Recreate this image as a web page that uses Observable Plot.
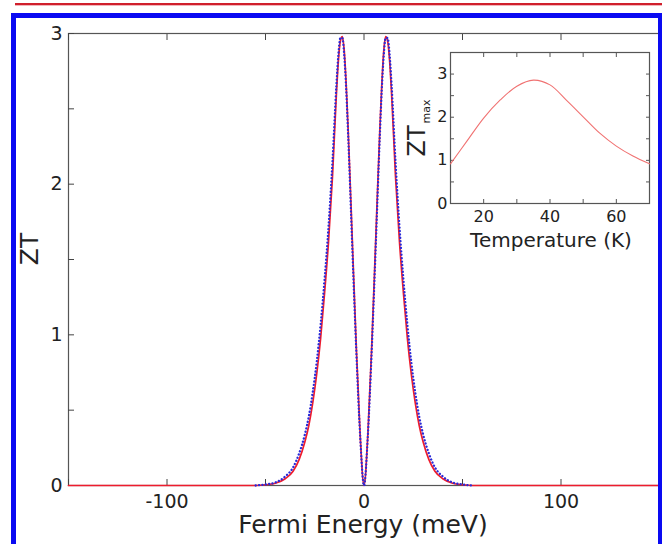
<!DOCTYPE html>
<html><head><meta charset="utf-8">
<script src="https://cdn.jsdelivr.net/npm/d3@7"></script>
<script src="https://cdn.jsdelivr.net/npm/@observablehq/plot@0.6"></script>
<style>
html,body{margin:0;padding:0;background:#fff;overflow:hidden;}
#wrap{position:relative;width:662px;height:544px;overflow:hidden;font-family:"DejaVu Sans",sans-serif;background:#fff;}
#main,#inset{position:absolute;}
#main{left:0;top:0}
#inset{left:390px;top:40px}
.bframe{position:absolute;left:11px;top:13px;width:651px;height:600px;box-sizing:border-box;border:5px solid #0a0af2;border-right-width:4px;pointer-events:none}
.topline{position:absolute;left:15px;right:0;top:3px;height:2px;background:#d01f2c}
.topline2{position:absolute;left:15px;right:0;top:5px;height:1px;background:#f2b6bb}
</style></head>
<body><div id="wrap"><div id="main"></div><div id="inset"></div><div class="topline"></div><div class="topline2"></div><div class="bframe"></div></div>
<script>
// Main panel: ZT vs Fermi energy
const energy = [-150,-55,-50,-45,-40,-36,-33,-30,-28,-26,-24,-22,-20,-18,-16,-14,-13,-12,-11,-10,-9,-8,-6,-4,-2,0,2,4,6,8,9,10,11,12,13,14,16,18,20,22,24,26,28,30,33,36,40,45,50,55,150];
const ztSolid = [0,0,0.005,0.015,0.045,0.095,0.17,0.29,0.40,0.55,0.74,0.98,1.28,1.62,2.05,2.6,2.82,2.95,2.98,2.88,2.65,2.35,1.65,0.95,0.35,0,0.35,0.95,1.65,2.35,2.65,2.88,2.98,2.95,2.82,2.6,2.05,1.62,1.28,0.98,0.74,0.55,0.40,0.29,0.17,0.095,0.045,0.015,0.005,0,0];
const energyDotted = [-55,-50,-45,-40,-36,-33,-30,-28,-26,-24,-22,-20,-18,-16,-14,-13,-12,-11,-10,-9,-8,-6,-4,-2,0,2,4,6,8,9,10,11,12,13,14,16,18,20,22,24,26,28,30,33,36,40,45,50,55];
const ztDotted = [0,0.007,0.02,0.06,0.12,0.21,0.34,0.46,0.62,0.82,1.07,1.37,1.72,2.15,2.66,2.86,2.97,2.97,2.85,2.62,2.31,1.6,0.92,0.34,0,0.34,0.92,1.6,2.31,2.62,2.85,2.97,2.97,2.86,2.66,2.15,1.72,1.37,1.07,0.82,0.62,0.46,0.34,0.21,0.12,0.06,0.02,0.007,0];
const xTicks = [-150,-100,-50,0,50,100,150];
const xTickLabels = ["","-100","","0","","100",""];
const yTicks = [0,0.5,1,1.5,2,2.5,3];
const yTickLabels = ["0","","1","","2","","3"];
const xLabel = "Fermi Energy (meV)";
const yLabel = "ZT";

// Inset: ZT_max vs temperature
const temperature = [10,15,20,25,30,35,40,45,50,55,60,65,70];
const ztMax = [0.92,1.45,1.98,2.4,2.72,2.86,2.75,2.39,2.01,1.63,1.33,1.1,0.92];
const insetXTicks = [10,20,30,40,50,60,70];
const insetXTickLabels = ["","20","","40","","60",""];
const insetYTicks = [0,0.5,1,1.5,2,2.5,3,3.5];
const insetYTickLabels = ["0","","1","","2","","3",""];
const insetXLabel = "Temperature (K)";
const insetYLabel = "ZT";
const insetYSub = "max";

const FONT = "DejaVu Sans, sans-serif";
const fmt = (ticks, labels) => d => { const i = ticks.indexOf(d); return i < 0 ? "" : labels[i]; };

const solid = energy.map((e, i) => ({e, zt: ztSolid[i]}));
const dotted = energyDotted.map((e, i) => ({e, zt: ztDotted[i]}));

const main = Plot.plot({
  width: 662, height: 544,
  marginLeft: 68, marginRight: 3, marginTop: 33, marginBottom: 59,
  style: {fontFamily: FONT, fontSize: "19px", color: "#222", background: "transparent", overflow: "visible"},
  x: {domain: [-150, 150]},
  y: {domain: [0, 3]},
  marks: [
    Plot.frame({stroke: "#555", strokeWidth: 1.2}),
    Plot.axisX(xTicks, {anchor: "bottom", tickSize: -6, tickPadding: 15, tickFormat: fmt(xTicks, xTickLabels), label: null, stroke: "#444"}),
    Plot.axisX(xTicks, {anchor: "top", tickSize: -6, tickFormat: () => "", label: null, stroke: "#444"}),
    Plot.axisY(yTicks, {anchor: "left", tickSize: -6, tickPadding: 12, tickFormat: fmt(yTicks, yTickLabels), label: null, stroke: "#444"}),
    Plot.line(solid, {x: "e", y: "zt", stroke: "#ee1c2e", strokeWidth: 1.7, curve: "monotone-x"}),
    Plot.line(dotted, {x: "e", y: "zt", stroke: "#2a2ad8", strokeWidth: 2.3, strokeDasharray: "0.1,3.3", strokeLinecap: "round", curve: "monotone-x"})
  ]
});
const ms = d3.select(main);
ms.append("text").attr("x", 363).attr("y", 533).attr("text-anchor", "middle")
  .attr("font-size", 25).attr("fill", "#222").text(xLabel);
ms.append("text").attr("transform", "translate(38,249) rotate(-90)").attr("text-anchor", "middle")
  .attr("font-size", 25).attr("fill", "#222").text(yLabel);
document.getElementById("main").appendChild(main);

const insetData = temperature.map((t, i) => ({t, z: ztMax[i]}));
const inset = Plot.plot({
  width: 272, height: 220,
  marginLeft: 60, marginRight: 13, marginTop: 12, marginBottom: 57,
  style: {fontFamily: FONT, fontSize: "16px", color: "#222", background: "transparent", overflow: "visible"},
  x: {domain: [10, 70]},
  y: {domain: [0, 3.5]},
  marks: [
    Plot.frame({fill: "white", stroke: "#555", strokeWidth: 1.2}),
    Plot.axisX(insetXTicks, {anchor: "bottom", tickSize: -4, tickPadding: 11, tickFormat: fmt(insetXTicks, insetXTickLabels), label: null, stroke: "#555"}),
    Plot.axisX(insetXTicks, {anchor: "top", tickSize: -4, tickFormat: () => "", label: null, stroke: "#555"}),
    Plot.axisY(insetYTicks, {anchor: "left", tickSize: -4, tickPadding: 7, tickFormat: fmt(insetYTicks, insetYTickLabels), label: null, stroke: "#555"}),
    Plot.axisY(insetYTicks, {anchor: "right", tickSize: -4, tickFormat: () => "", label: null, stroke: "#555"}),
    Plot.line(insetData, {x: "t", y: "z", stroke: "#f07272", strokeWidth: 1.1, curve: "catmull-rom"})
  ]
});
const is = d3.select(inset);
is.append("text").attr("x", 161).attr("y", 207).attr("text-anchor", "middle")
  .attr("font-size", 20).attr("fill", "#222").text(insetXLabel);
const yl = is.append("text").attr("transform", "translate(35,88) rotate(-90)").attr("text-anchor", "middle")
  .attr("fill", "#222");
yl.append("tspan").attr("font-size", 24).text(insetYLabel);
yl.append("tspan").attr("font-size", 11).attr("dy", 5).attr("dx", 2).text(insetYSub);
document.getElementById("inset").appendChild(inset);
</script>
</body></html>
